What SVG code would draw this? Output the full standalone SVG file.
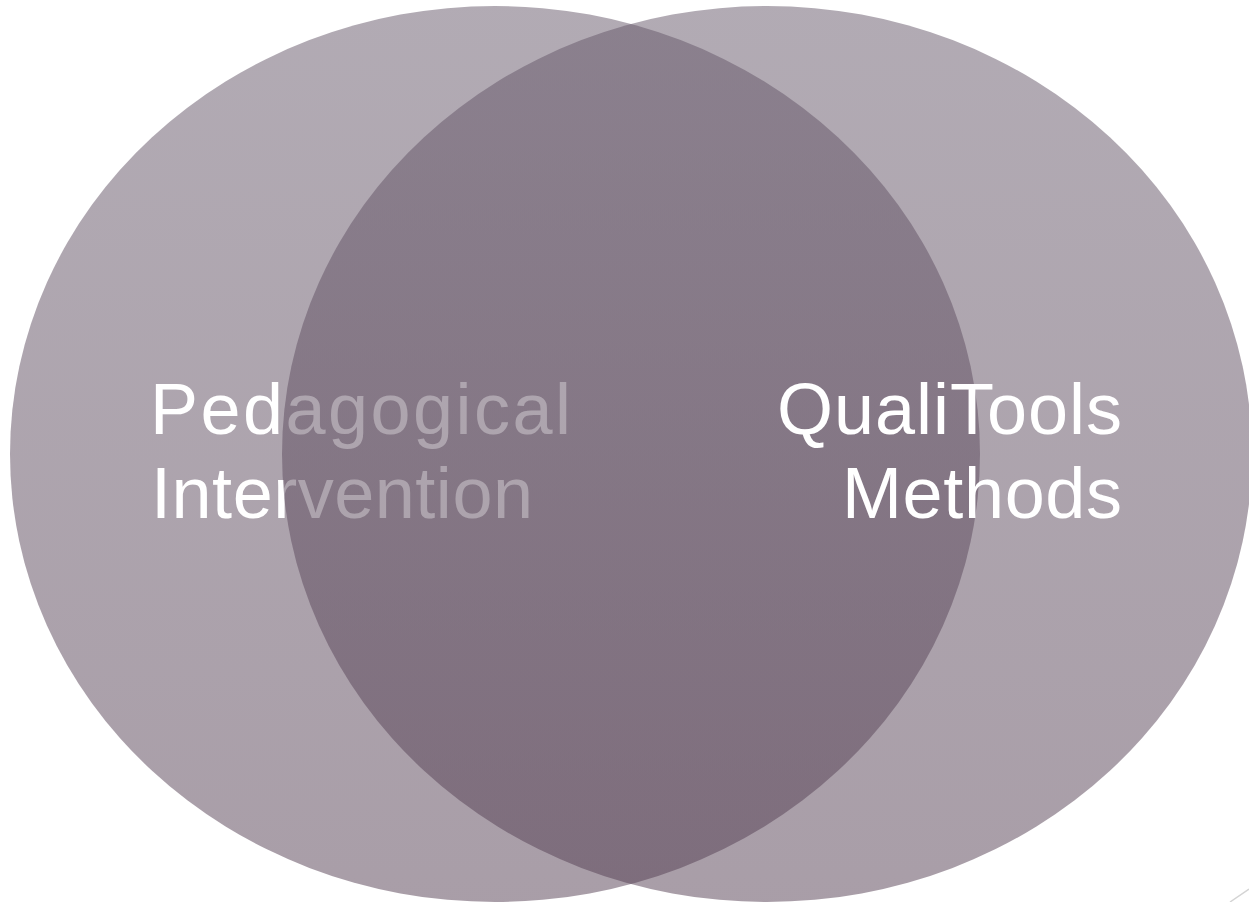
<svg xmlns="http://www.w3.org/2000/svg" width="1249" height="902" viewBox="0 0 1249 902">
<style>
.circ{fill:url(#g);fill-opacity:0.5}
.lbl{font-family:"Liberation Sans",Arial,sans-serif;font-size:72px;fill:#ffffff}
</style>
<defs>
<linearGradient id="g" x1="0" y1="0" x2="0" y2="1">
<stop offset="0" stop-color="#655769"/>
<stop offset="1" stop-color="#533d51"/>
</linearGradient>
</defs>
<rect width="1249" height="902" fill="#ffffff"/>
<g id="node-pedagogical">
<ellipse class="circ" cx="495" cy="454" rx="485" ry="448"/>
<text class="lbl" x="150" y="434" textLength="421" lengthAdjust="spacing">Pedagogical</text>
<text class="lbl" x="151" y="518" textLength="382" lengthAdjust="spacing">Intervention</text>
</g>
<g id="node-qualitools">
<ellipse class="circ" cx="767" cy="454" rx="485" ry="448"/>
<text class="lbl" x="777" y="434" textLength="345" lengthAdjust="spacing">QualiTools</text>
<text class="lbl" x="842" y="518" textLength="280" lengthAdjust="spacing">Methods</text>
</g>
<g id="connectors"></g>
<line x1="1230" y1="902" x2="1249" y2="889" stroke="#d4d4d4" stroke-width="1.5"/>
</svg>
